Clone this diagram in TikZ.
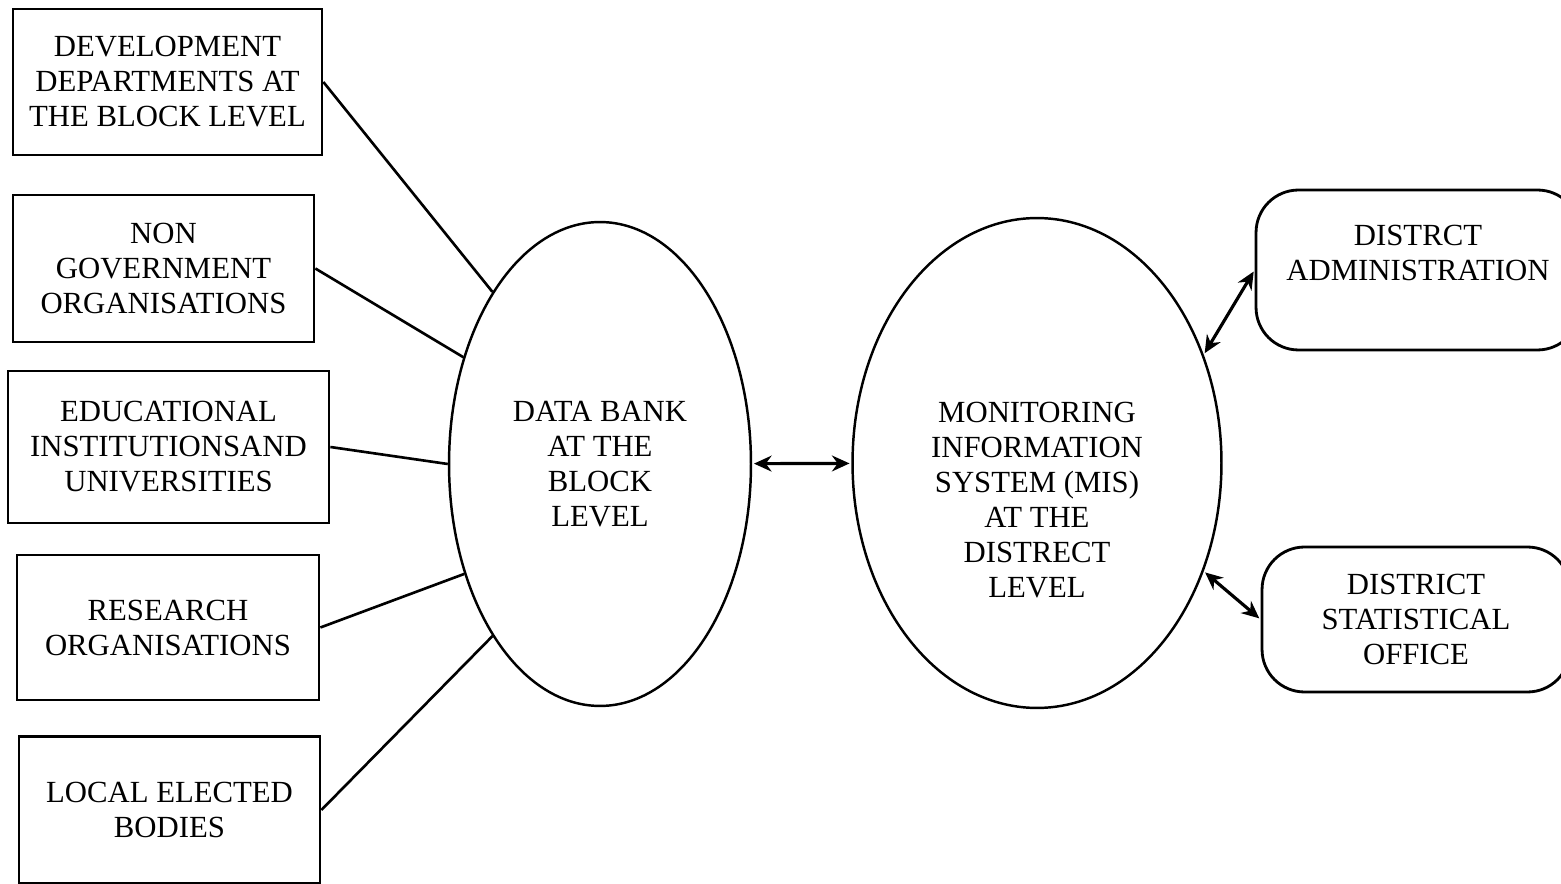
\documentclass[tikz,border=0pt]{standalone}
\usepackage{fontspec}
\setmainfont{Liberation Serif}
\usetikzlibrary{shapes.geometric,arrows.meta}

\tikzstyle{source} = [draw,line width=1.6pt,align=center,inner sep=0pt,font=\fontsize{17.5}{19.9}\selectfont]
\tikzstyle{office} = [source,rounded corners=0.85cm]
\tikzstyle{bubble} = [ellipse,draw,line width=1.4pt,align=center,inner sep=0pt,font=\fontsize{17.5}{19.9}\selectfont]
\tikzstyle{link} = [draw,line width=1.5pt,-]
\tikzstyle{twoway} = [{Stealth[length=10pt,width=9pt]}-{Stealth[length=10pt,width=9pt]},line width=1.8pt,shorten <=1pt,shorten >=1pt]

\begin{document}
\begin{tikzpicture}[x=0.02cm,y=-0.02cm]
    \useasboundingbox (0,0) rectangle (1561,884);

    % sources on the left
    \foreach \nodename/\x/\y/\w/\h/\words in {
      dev/167.5/82/6.18/2.92/{DEVELOPMENT\\DEPARTMENTS AT\\THE BLOCK LEVEL},
      ngo/163.5/268.5/6.02/2.94/{NON\\GOVERNMENT\\ORGANISATIONS},
      edu/168.5/447/6.42/3.04/{EDUCATIONAL\\INSTITUTIONSAND\\UNIVERSITIES},
      res/168/627.5/6.04/2.9/{RESEARCH\\ORGANISATIONS},
      loc/169.5/810/6.02/2.94/{LOCAL ELECTED\\BODIES}}
    {
      \node[source, minimum width=\w cm, minimum height=\h cm] (\nodename) at (\x,\y) {\words};
    }

    % the two banks
    \node[bubble, minimum width=6.04cm, minimum height=9.68cm] (bank) at (600,464)
      {DATA BANK\\AT THE\\BLOCK\\LEVEL};
    \node[bubble, minimum width=7.38cm, minimum height=9.8cm] (mis) at (1037,463)
      {\mbox{}\\[34pt]MONITORING\\INFORMATION\\SYSTEM (MIS)\\AT THE\\DISTRECT\\LEVEL};

    % district offices
    \node[office, minimum width=6.48cm, minimum height=3.2cm] (adm) at (1418,270)
      {DISTRCT\\ADMINISTRATION\\\mbox{}};
    \node[office, minimum width=6.16cm, minimum height=2.9cm] (stat) at (1416,619.5)
      {DISTRICT\\STATISTICAL\\OFFICE};

    %edges
    \path
    \foreach \startnode/\angle in {dev/122, ngo/142, edu/180, res/219, loc/238}
    {
      (\startnode.east) edge[link] (bank.\angle)
    };

    \path
      (bank) edge[twoway] (mis)
      (mis.33) edge[twoway] (adm.west)
      (mis.-33) edge[twoway] (stat.west);

\end{tikzpicture}
\end{document}
